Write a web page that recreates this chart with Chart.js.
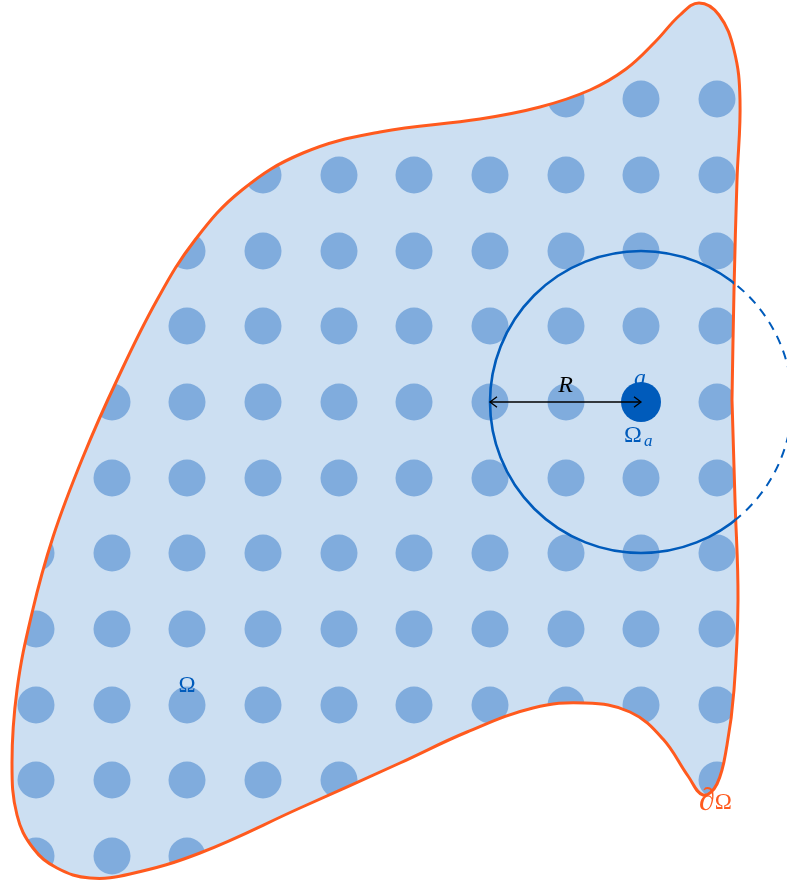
<!DOCTYPE html>
<html><head><meta charset="utf-8">
<script src="https://cdn.jsdelivr.net/npm/chart.js@4.4.1/dist/chart.umd.min.js"></script>
<style>html,body{margin:0;padding:0;background:#fff;overflow:hidden}canvas{display:block}</style>
</head><body>
<canvas id="c" width="787" height="883"></canvas>
<script>
// ---- data (drawing units) ----
const boundaryX = [732,734,737,740,734,719,699,680,655,626,590,540,480,380,303,242,195,157,117,83,53,32,17,12,17,33,57,90,130,200,300,400,467,533,585,630,663,688,703,717,727,734,738,735,732];
const boundaryY = [400,290,180,100,50,15,3,15,42,69,90,107,119,132,153,190,240,300,380,457,537,613,690,763,815,848,868,878,874,853,808,763,732,708,703,712,739,776,795,784,745,690,600,500,400];
const gridX = [36,112,187,263,339,414,490,566,641,717];
const gridY = [99,175,251,326,402,478,553,629,705,780,856];
const centerA = [641, 402];
const radiusR = 151;
const labelTexts = ['R', 'a', 'Ω', 'a', 'Ω', '∂', 'Ω'];

// ---- build tables ----
const boundaryPts = boundaryX.map((x, i) => ({x, y: boundaryY[i]}));
const gridPts = [];
gridY.forEach(y => gridX.forEach(x => gridPts.push({x, y})));
const centerPt = [{x: centerA[0], y: centerA[1]}];
const arrowPts = [{x: centerA[0] - radiusR, y: centerA[1]}, {x: centerA[0], y: centerA[1]}];

const BLUE = 'rgb(0,91,187)', ORANGE = 'rgb(255,90,30)';
const FILL = 'rgb(204,223,242)', DOT = 'rgb(128,172,221)';

function circleRadius(ctx) {
  const s = ctx.chart.scales.x;
  return Math.abs(s.getPixelForValue(centerA[0]) - s.getPixelForValue(centerA[0] - radiusR));
}

function regionPath(chart, ctx) {
  const meta = chart.getDatasetMeta(0);
  ctx.beginPath();
  meta.dataset.path(ctx);
  ctx.closePath();
}

const clipPlugin = {
  id: 'regionClip',
  beforeDatasetDraw(chart, args) {
    const ds = chart.data.datasets[args.index];
    if (!ds.regionClip) return;
    const ctx = chart.ctx;
    ctx.save();
    regionPath(chart, ctx);
    if (ds.regionClip === 'inside') {
      ctx.clip();
    } else {
      ctx.rect(0, 0, chart.width, chart.height);
      ctx.clip('evenodd');
      ctx.setLineDash([9, 7]);
    }
  },
  afterDatasetDraw(chart, args) {
    const ds = chart.data.datasets[args.index];
    const ctx = chart.ctx;
    if (ds.regionClip) ctx.restore();
    const sx = chart.scales.x, sy = chart.scales.y;
    if (ds.id === 'circleSolid') {
      ctx.save();
      ctx.fillStyle = BLUE;
      ctx.font = 'italic 24px "Liberation Serif"';
      ctx.textAlign = 'center';
      ctx.textBaseline = 'alphabetic';
      ctx.fillText(labelTexts[1], sx.getPixelForValue(centerA[0]) - 1, sy.getPixelForValue(centerA[1]) - 17);
      ctx.restore();
    }
    if (ds.id === 'arrow') {
      const pts = chart.getDatasetMeta(args.index).data;
      ctx.save();
      ctx.strokeStyle = '#000';
      ctx.lineWidth = 1.3;
      const h = 7;
      const a = pts[0], b = pts[1];
      ctx.beginPath();
      ctx.moveTo(a.x + h, a.y - h * 0.75); ctx.lineTo(a.x, a.y); ctx.lineTo(a.x + h, a.y + h * 0.75);
      ctx.moveTo(b.x - h, b.y - h * 0.75); ctx.lineTo(b.x, b.y); ctx.lineTo(b.x - h, b.y + h * 0.75);
      ctx.stroke();
      ctx.restore();
    }
  },
  afterDatasetsDraw(chart) {
    const ctx = chart.ctx;
    const sx = chart.scales.x, sy = chart.scales.y;
    const cx = sx.getPixelForValue(centerA[0]), cy = sy.getPixelForValue(centerA[1]);
    ctx.save();
    ctx.textBaseline = 'alphabetic';
    ctx.fillStyle = '#000';
    ctx.font = 'italic 24px "Liberation Serif"';
    ctx.textAlign = 'center';
    ctx.fillText(labelTexts[0], sx.getPixelForValue(centerA[0] - radiusR / 2), cy - 10);
    ctx.fillStyle = BLUE;
    ctx.textAlign = 'left';
    ctx.font = '24px "Liberation Serif"';
    ctx.fillText(labelTexts[2], cx - 17, cy + 40);
    ctx.font = 'italic 17px "Liberation Serif"';
    ctx.fillText(labelTexts[3], cx + 3, cy + 44);
    ctx.font = '23px "Liberation Serif"';
    ctx.textAlign = 'center';
    ctx.fillText(labelTexts[4], sx.getPixelForValue(gridX[2]), sy.getPixelForValue(gridY[8]) - 13);
    ctx.fillStyle = ORANGE;
    ctx.textAlign = 'left';
    const bx = sx.getPixelForValue(gridX[9]) - 18, by = sy.getPixelForValue(gridY[9]) + 29;
    ctx.font = 'italic 32px "Liberation Serif"';
    ctx.fillText(labelTexts[5], bx, by + 1);
    const w = ctx.measureText(labelTexts[5]).width;
    ctx.font = '23px "Liberation Serif"';
    ctx.fillText(labelTexts[6], bx + w, by);
    ctx.restore();
  }
};

new Chart(document.getElementById('c'), {
  type: 'scatter',
  data: {
    datasets: [
      { id: 'boundary', data: boundaryPts, showLine: true, pointRadius: 0, tension: 0.4,
        borderColor: ORANGE, borderWidth: 3, backgroundColor: FILL, fill: 'shape', order: 4 },
      { id: 'dots', data: gridPts, pointRadius: 18.5, pointBorderWidth: 0,
        backgroundColor: DOT, borderColor: DOT, regionClip: 'inside', order: 5 },
      { id: 'circleSolid', data: centerPt, pointRadius: circleRadius, pointBorderWidth: 2.6,
        backgroundColor: 'rgba(0,0,0,0)', borderColor: BLUE, regionClip: 'inside', order: 2 },
      { id: 'circleDashed', data: centerPt, pointRadius: circleRadius, pointBorderWidth: 2,
        backgroundColor: 'rgba(0,0,0,0)', borderColor: BLUE, regionClip: 'outside', order: 3 },
      { id: 'center', data: centerPt, pointRadius: 20, pointBorderWidth: 0,
        backgroundColor: BLUE, borderColor: BLUE, order: 1 },
      { id: 'arrow', data: arrowPts, showLine: true, pointRadius: 0, borderColor: '#000',
        borderWidth: 1.3, order: 0 }
    ]
  },
  options: {
    responsive: false,
    animation: false,
    events: [],
    layout: { padding: 0, autoPadding: false },
    scales: {
      x: { type: 'linear', display: false, min: 0, max: 787 },
      y: { type: 'linear', display: false, min: 0, max: 883, reverse: true }
    },
    plugins: {
      legend: { display: false },
      tooltip: { enabled: false },
      filler: { drawTime: 'beforeDatasetsDraw' }
    }
  },
  plugins: [clipPlugin]
});
</script>
</body></html>
